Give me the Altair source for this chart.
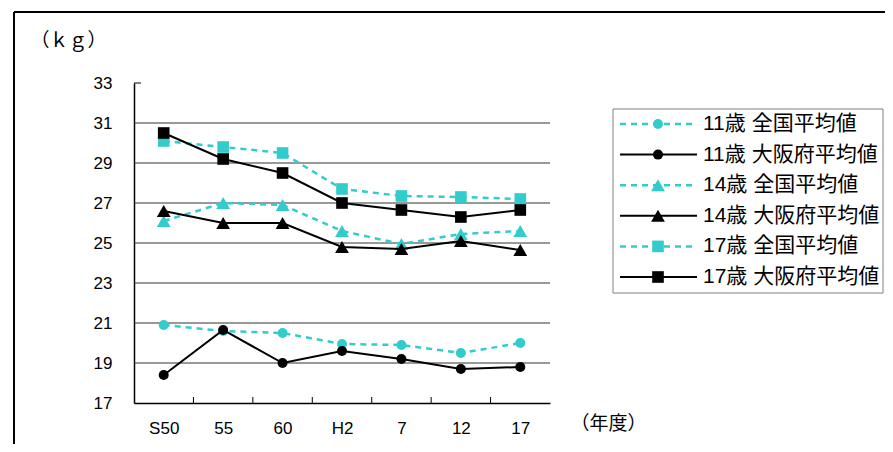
import altair as alt
import pandas as pd

# ---- data ----
years = ["S50", "55", "60", "H2", "7", "12", "17"]
nat11 = [20.9, 20.6, 20.5, 19.95, 19.9, 19.5, 20.0]
osa11 = [18.4, 20.65, 19.0, 19.6, 19.2, 18.7, 18.8]
nat14 = [26.1, 27.0, 26.9, 25.6, 24.95, 25.45, 25.6]
osa14 = [26.6, 26.0, 26.0, 24.8, 24.7, 25.1, 24.65]
nat17 = [30.1, 29.8, 29.5, 27.7, 27.35, 27.3, 27.2]
osa17 = [30.5, 29.2, 28.5, 27.0, 26.65, 26.3, 26.65]

ages = ["11", "14", "17"]
regions = ["全国", "大阪府"]
legend_labels = ["11歳 全国平均値", "11歳 大阪府平均値", "14歳 全国平均値",
                 "14歳 大阪府平均値", "17歳 全国平均値", "17歳 大阪府平均値"]
legend_ages = ["11", "11", "14", "14", "17", "17"]
legend_regions = ["全国", "大阪府", "全国", "大阪府", "全国", "大阪府"]
y_ticks = [17, 19, 21, 23, 25, 27, 29, 31, 33]
grid_values = [19, 21, 23, 25, 27, 29, 31]

series = {("11", "全国"): nat11, ("11", "大阪府"): osa11,
          ("14", "全国"): nat14, ("14", "大阪府"): osa14,
          ("17", "全国"): nat17, ("17", "大阪府"): osa17}
rows = []
for (age, reg), vals in series.items():
    for yr, v in zip(years, vals):
        rows.append({"year": yr, "age": age, "region": reg, "value": v})
df = pd.DataFrame(rows)
leg_df = pd.DataFrame({"label": legend_labels, "age": legend_ages, "region": legend_regions})
tick_df = pd.DataFrame({"year": years[:-1]})
grid_df = pd.DataFrame({"value": grid_values})
one = pd.DataFrame({"a": [0]})

CYAN = "#33CCCC"
FONT = "Liberation Sans, Noto Sans CJK JP"
W, H = 416, 320
PAD = {"left": 126, "top": 75, "right": 335, "bottom": 41}

X = alt.X("year:N", sort=years, scale=alt.Scale(type="point", padding=0.5),
          axis=alt.Axis(title="（年度）", ticks=False, grid=False, domainColor="black",
                        domainWidth=1.5, labelFont=FONT, labelFontSize=17, labelColor="black",
                        labelPadding=17, labelAngle=0, titleFont=FONT, titleFontSize=19,
                        titleFontWeight="normal", titleColor="black", titleX=436, titleY=20,
                        titleAlign="left", titleBaseline="middle"))
Y = alt.Y("value:Q", scale=alt.Scale(domain=[17, 33], nice=False, zero=False),
          axis=alt.Axis(values=y_ticks, tickCount=20, title="（ｋｇ）", ticks=False, grid=False,
                        labelOverlap=False,
                        domainColor="black", domainWidth=1.5, labelFont=FONT,
                        labelFontSize=17, labelColor="black", labelPadding=22,
                        titleFont=FONT, titleFontSize=19, titleFontWeight="normal",
                        titleColor="black", titleAngle=0, titleX=-104, titleY=-43,
                        titleAlign="left", titleBaseline="middle"))
shape_scale = alt.Scale(domain=ages, range=["circle", "triangle-up", "square"])
size_scale = alt.Scale(type="ordinal", domain=ages, range=[100, 190, 135])

base = alt.Chart(df)
nat = base.transform_filter(alt.datum.region == "全国")
osa = base.transform_filter(alt.datum.region == "大阪府")

frame_top = alt.Chart(one).mark_rule(color="black", strokeWidth=2).encode(
    x=alt.value(-120), x2=alt.value(W + PAD["right"]), y=alt.value(-71))
frame_left = alt.Chart(one).mark_rule(color="black", strokeWidth=2).encode(
    x=alt.value(-120), y=alt.value(-71), y2=alt.value(H + PAD["bottom"]))

grid = alt.Chart(grid_df).mark_rule(color="#333333", strokeWidth=1).encode(
    y=alt.Y("value:Q"), x=alt.value(0), x2=alt.value(W))

nat_line = nat.mark_line(color=CYAN, strokeDash=[6, 5], strokeWidth=2.5).encode(
    x=X, y=Y, detail="age:N")
nat_pts = nat.mark_point(filled=True, opacity=1, color=CYAN).encode(
    x=X, y=Y, shape=alt.Shape("age:N", scale=shape_scale, legend=None),
    size=alt.Size("age:N", scale=size_scale, legend=None))
osa_line = osa.mark_line(color="black", strokeWidth=2).encode(x=X, y=Y, detail="age:N")
osa_pts = osa.mark_point(filled=True, opacity=1, color="black").encode(
    x=X, y=Y, shape=alt.Shape("age:N", scale=shape_scale, legend=None),
    size=alt.Size("age:N", scale=size_scale, legend=None))

x_ticks = alt.Chart(tick_df).mark_rule(color="black", strokeWidth=1, xOffset=W / 7 / 2).encode(
    x=alt.X("year:N", sort=years), y=alt.value(H - 6), y2=alt.value(H))
y_top_tick = alt.Chart(one).mark_rule(color="black", strokeWidth=1).encode(
    y=alt.datum(33), x=alt.value(0), x2=alt.value(7))

main = alt.layer(frame_top, frame_left, grid, nat_line, nat_pts, osa_line, osa_pts,
                 x_ticks, y_top_tick)

# ---- legend ----
YL = alt.Y("label:N", scale=alt.Scale(type="point", domain=legend_labels, range=[41, 194], padding=0),
           axis=None)
reg_color = alt.Scale(domain=regions, range=[CYAN, "black"])
leg_box = alt.Chart(one).mark_rect(fill="white", stroke="#808080", strokeWidth=1).encode(
    x=alt.value(479), x2=alt.value(W + PAD["right"] - 2), y=alt.value(26), y2=alt.value(210))
leg_rule = alt.Chart(leg_df).mark_rule().encode(
    x=alt.value(486), x2=alt.value(563), y=YL,
    color=alt.Color("region:N", scale=reg_color, legend=None),
    strokeDash=alt.StrokeDash("region:N", scale=alt.Scale(domain=regions, range=[[6, 5], [1, 0]]), legend=None),
    strokeWidth=alt.StrokeWidth("region:N", scale=alt.Scale(type="ordinal", domain=regions, range=[2.5, 2]), legend=None))
leg_pts = alt.Chart(leg_df).mark_point(filled=True, opacity=1).encode(
    x=alt.value(524), y=YL,
    color=alt.Color("region:N", scale=reg_color, legend=None),
    shape=alt.Shape("age:N", scale=shape_scale, legend=None),
    size=alt.Size("age:N", scale=size_scale, legend=None))
leg_text = alt.Chart(leg_df).mark_text(align="left", baseline="middle", font=FONT,
                                        fontSize=21, color="black").encode(
    x=alt.value(569), y=YL, text="label:N")
legend = alt.layer(leg_box, leg_rule, leg_pts, leg_text)

chart = alt.layer(main, legend).resolve_scale(y="independent").properties(
    width=W, height=H, padding=PAD, autosize=alt.AutoSizeParams(type="none"),
    background="white"
).configure_view(stroke=None)

chart.save("out.html", embed_options={"renderer": "svg", "actions": False})
